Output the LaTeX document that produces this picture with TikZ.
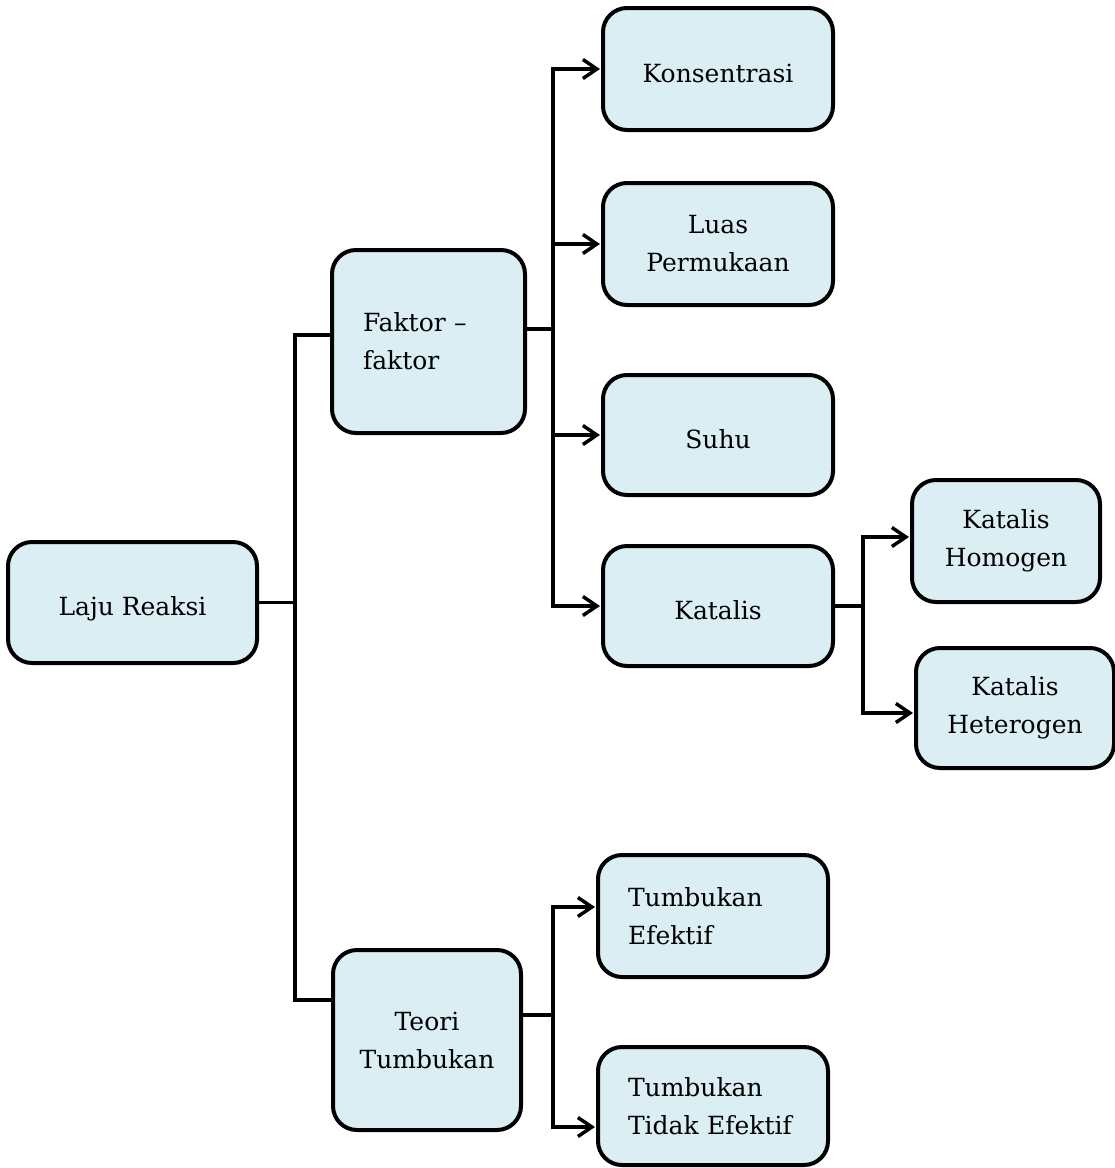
\documentclass[tikz,border=0pt]{standalone}
\usepackage{fontspec}
\setmainfont{DejaVu Serif}
\usepackage{tikz}
\usetikzlibrary{arrows.meta}
\definecolor{boxblue}{RGB}{218,238,243}
\tikzset{
    kotak/.style={draw=black, line width=4pt, fill=boxblue, rounded corners=24pt, inner sep=0pt, align=center, font=\fontsize{25}{38}\selectfont},
    satu/.style={text height=26pt, text depth=0pt},
    garis/.style={black, line width=3.5pt, line cap=rect},
    panah/.style={garis, -{Straight Barb[length=14pt,width=19pt]}, shorten >=1pt},
}
\begin{document}
\begin{tikzpicture}[x=1pt, y=-1pt]
    \useasboundingbox (0,0) rectangle (1115,1168) ;
    \node[kotak, satu, minimum width=249, minimum height=121] (laju) at (132.5,602.5) {Laju Reaksi} ;
    \node[kotak, minimum width=193, minimum height=183, text width=131, align=left] (faktor) at (428.5,341.5) {Faktor --\\faktor} ;
    \node[kotak, minimum width=188, minimum height=180] (teori) at (427,1040) {Teori\\Tumbukan} ;
    \node[kotak, satu, minimum width=230, minimum height=122] (konsentrasi) at (718,69) {Konsentrasi} ;
    \node[kotak, minimum width=230, minimum height=122] (luas) at (718,244) {Luas\\Permukaan} ;
    \node[kotak, satu, minimum width=230, minimum height=120] (suhu) at (718,435) {Suhu} ;
    \node[kotak, satu, minimum width=230, minimum height=120] (katalis) at (718,606) {Katalis} ;
    \node[kotak, minimum width=188, minimum height=122] (homogen) at (1006,541) {Katalis\\Homogen} ;
    \node[kotak, minimum width=198, minimum height=120] (heterogen) at (1015,708) {Katalis\\Heterogen} ;
    \node[kotak, minimum width=230, minimum height=122, text width=170, align=left] (efektif) at (713,916) {Tumbukan\\Efektif} ;
    \node[kotak, minimum width=230, minimum height=118, text width=170, align=left] (tidak) at (713,1106) {Tumbukan\\Tidak Efektif} ;
    \coordinate (akar) at (295,602.5) ;
    \coordinate (cabangA) at (295,335) ;
    \coordinate (cabangB) at (295,1000) ;
    \draw[garis] (laju.east) -- (akar) ;
    \draw[garis] (cabangA -| faktor.west) -- (cabangA) -- (cabangB) -- (cabangB -| teori.west) ;
    \coordinate (busF) at (553,329) ;
    \draw[garis] (busF -| faktor.east) -- (busF) ;
    \draw[garis] (busF |- konsentrasi.west) -- (busF |- katalis.west) ;
    \draw[panah] (busF |- konsentrasi.west) -- (konsentrasi.west) ;
    \draw[panah] (busF |- luas.west) -- (luas.west) ;
    \draw[panah] (busF |- suhu.west) -- (suhu.west) ;
    \draw[panah] (busF |- katalis.west) -- (katalis.west) ;
    \coordinate (busK) at (863,606) ;
    \coordinate (katA) at (863,537) ;
    \coordinate (katB) at (863,713) ;
    \draw[garis] (katalis.east) -- (busK) ;
    \draw[garis] (katA) -- (katB) ;
    \draw[panah] (katA) -- (katA -| homogen.west) ;
    \draw[panah] (katB) -- (katB -| heterogen.west) ;
    \coordinate (busT) at (553,1015) ;
    \coordinate (tumA) at (553,907) ;
    \coordinate (tumB) at (553,1127) ;
    \draw[garis] (busT -| teori.east) -- (busT) ;
    \draw[garis] (tumA) -- (tumB) ;
    \draw[panah] (tumA) -- (tumA -| efektif.west) ;
    \draw[panah] (tumB) -- (tumB -| tidak.west) ;
\end{tikzpicture}
\end{document}
